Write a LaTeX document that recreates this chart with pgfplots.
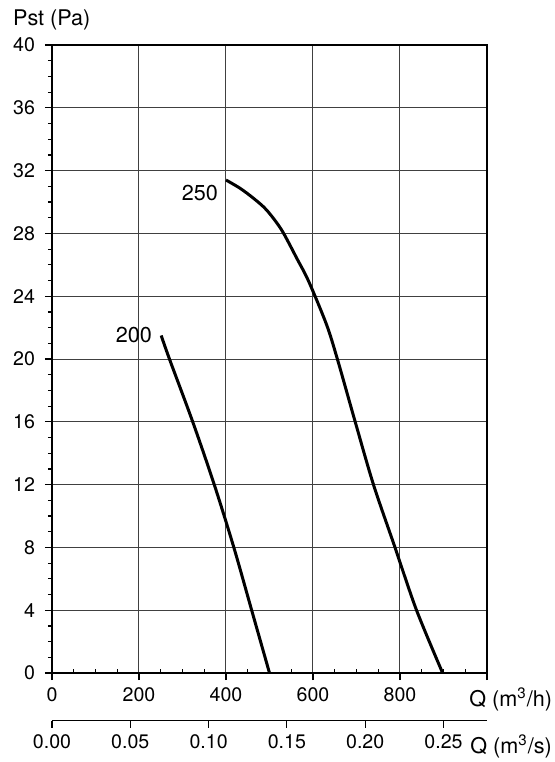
\documentclass[border=0pt]{standalone}
\usepackage{pgfplots}
\pgfplotsset{compat=1.18}
\usepackage{fontspec}
\setmainfont{TeX Gyre Heros}
\begin{document}
\begin{tikzpicture}[x=0.5pt,y=0.5pt,font=\fontsize{9.8}{11}\selectfont]
\useasboundingbox (-52,-89) rectangle (502,673);
\begin{axis}[
  at={(0pt,0pt)}, anchor=south west,
  scale only axis, width=217.5pt, height=314pt,
  xmin=0, xmax=1000, ymin=0, ymax=40,
  xtick={0,200,400,600,800,1000},
  xticklabels={0,200,400,600,800,},
  ytick={0,4,...,40},
  minor x tick num=3, minor y tick num=3,
  xtick pos=bottom, ytick pos=left,
  tick align=outside,
  major tick length=3.5pt, minor tick length=2pt,
  minor x tick style={yshift=2pt},
  grid=major,
  major grid style={black!75, line width=0.5pt},
  axis line style={black, line width=0.7pt},
  tick style={black, line width=0.6pt},
  /pgf/number format/assume math mode=true,
  yticklabel style={xshift=-1.5pt},
  xticklabel style={yshift=-0.5pt},
  clip=false,
]
\addplot[black, line width=1.5pt, smooth] coordinates {
 (251,21.5) (270,20.0) (323.5,16.0) (373,12.0)
 (418,8.0) (459,4.0) (500,0)
};
\addplot[black, line width=1.5pt, smooth] coordinates {
 (400,31.4) (432,30.88) (462.6,30.25) (493,29.5) (527.6,28.23) (563,26.4)
 (590,24.95) (631,22.2) (656,20.0) (697,16.0) (739,12.0)
 (788.5,8.0) (838,4.0) (898,0)
};
\node[font=\fontsize{10.8}{12}\selectfont] at (axis cs:188,21.55) {200};
\node[font=\fontsize{10.8}{12}\selectfont] at (axis cs:340,30.6) {250};
\end{axis}
\begin{axis}[
  at={(0pt,-23.85pt)}, anchor=south west,
  scale only axis, width=217.5pt, height=1pt,
  xmin=0, xmax=0.2777778, ymin=0, ymax=1,
  hide y axis,
  axis x line*=bottom,
  xtick={0,0.05,0.10,0.15,0.20,0.25},
  xtick pos=bottom,
  tick align=outside,
  major tick length=3.5pt,
  axis line style={black, line width=0.7pt},
  tick style={black, line width=0.6pt},
  xticklabel style={/pgf/number format/.cd, fixed, fixed zerofill, precision=2},
  /pgf/number format/assume math mode=true,
]
\end{axis}
\begin{scope}[font=\fontsize{10.8}{12}\selectfont]
\node[anchor=base west, inner sep=0] at (-39.3,647) {Pst (Pa)};
\node[anchor=base west, inner sep=0] at (417,-33) {Q (m\textsuperscript{3}/h)};
\node[anchor=base west, inner sep=0] at (418,-80) {Q (m\textsuperscript{3}/s)};
\end{scope}
\end{tikzpicture}
\end{document}
